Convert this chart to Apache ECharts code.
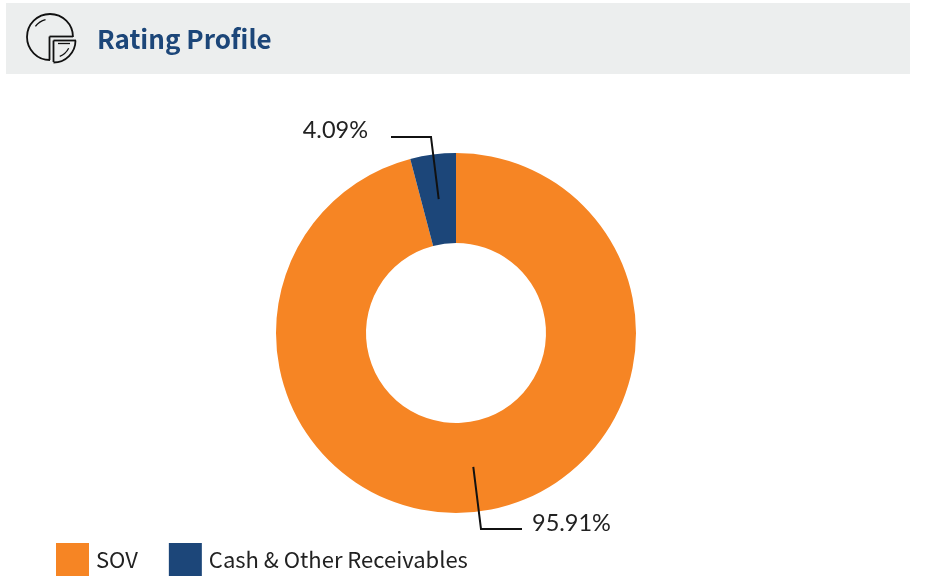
<!DOCTYPE html>
<html><head><meta charset="utf-8">
<style>html,body{margin:0;padding:0;background:#fff}#c{width:925px;height:577px}</style>
<script src="https://cdn.jsdelivr.net/npm/echarts@6/dist/echarts.min.js"></script>
</head><body><div id="c"></div>
<script>
const titleText = 'Rating Profile';
const categories = ['SOV', 'Cash & Other Receivables'];
const values = [95.91, 4.09];
const colors = ['#F68524', '#1C4679'];

const cx = 456, cy = 333, rOuter = 180, rInner = 90;
const elbows = [{ex: 481, ey: 529, tx: 522}, {ex: 431, ey: 137, tx: 391}];
const total = values.reduce((a, b) => a + b, 0);

function layout(params) {
  const i = params.dataIndex;
  let before = 0;
  for (let k = 0; k < i; k++) before += values[k];
  const a = (before + values[i] / 2) / total * 2 * Math.PI;
  const r = (rOuter + rInner) / 2;
  const e = elbows[i];
  const w = params.labelRect.width;
  return {
    x: i === 0 ? e.tx + 10 : e.tx - 23 - w,
    y: i === 0 ? e.ey - 6 : e.ey - 7,
    align: 'left',
    verticalAlign: 'middle',
    labelLinePoints: [[cx + r * Math.sin(a), cy - r * Math.cos(a)], [e.ex, e.ey], [e.tx, e.ey]]
  };
}
const stroke = w => ({fill: 'none', stroke: '#111', lineWidth: w});
const seg = (x1, y1, x2, y2, w) => ({type: 'line', shape: {x1, y1, x2, y2}, style: stroke(w)});
const arc = (cx, cy, r, startAngle, endAngle, w) => ({type: 'arc', shape: {cx, cy, r, startAngle, endAngle, clockwise: true}, style: stroke(w)});
const pieData = () => categories.map((n, i) => ({name: n, value: values[i]}));

const chart = echarts.init(document.getElementById('c'), null, {renderer: 'canvas'});
chart.setOption({
  animation: false,
  color: colors,
  legend: {
    left: 56, top: 543, padding: 0, itemWidth: 33, itemHeight: 33, itemGap: 31,
    icon: 'rect', selectedMode: false,
    textStyle: {fontFamily: 'Noto Sans CJK SC', fontSize: 22, color: '#222', padding: [2, 0, 0, 2]},
    data: categories
  },
  graphic: [
    {type: 'rect', z: -1, shape: {x: 6, y: 3, width: 904, height: 71}, style: {fill: '#ECEEEE'}},
    {type: 'text', x: 97, y: 39, style: {text: titleText, fill: '#1C4679', font: 'bold 26px "Noto Sans CJK SC"', textVerticalAlign: 'middle'}},
    arc(50, 37, 23, Math.PI / 2, Math.PI * 2, 1.8),
    seg(49.5, 60, 49.5, 36.5, 1.8),
    seg(49.5, 36.5, 73, 36.5, 1.8),
    seg(53.5, 40.5, 53.5, 62, 1.8),
    seg(53.5, 40.5, 76, 40.5, 1.8),
    arc(53.5, 40.5, 22, 0, Math.PI / 2, 1.8),
    arc(50, 37, 18, Math.PI * 1.2, Math.PI * 1.42, 1.3),
    arc(53.5, 40.5, 17, Math.PI * 0.15, Math.PI * 0.38, 1.3),
    seg(58, 43.5, 70, 43.5, 1.3)
  ],
  series: [{
    type: 'pie',
    z: 1,
    center: [cx, cy],
    radius: [rInner, rOuter],
    startAngle: 90,
    data: pieData(),
    label: {show: false},
    labelLine: {show: false},
    itemStyle: {borderWidth: 0},
    emphasis: {disabled: true}
  }, {
    type: 'pie',
    z: 5,
    silent: true,
    center: [cx, cy],
    radius: [rInner, rOuter],
    startAngle: 90,
    avoidLabelOverlap: false,
    data: pieData(),
    itemStyle: {color: 'rgba(0,0,0,0)', borderWidth: 0},
    label: {show: true, position: 'outside', formatter: p => p.value.toFixed(2) + '%',
      fontFamily: 'Lato', fontSize: 23.5, color: '#222'},
    labelLine: {show: true, lineStyle: {color: '#111', width: 2}},
    labelLayout: layout,
    emphasis: {disabled: true}
  }]
});
</script></body></html>
